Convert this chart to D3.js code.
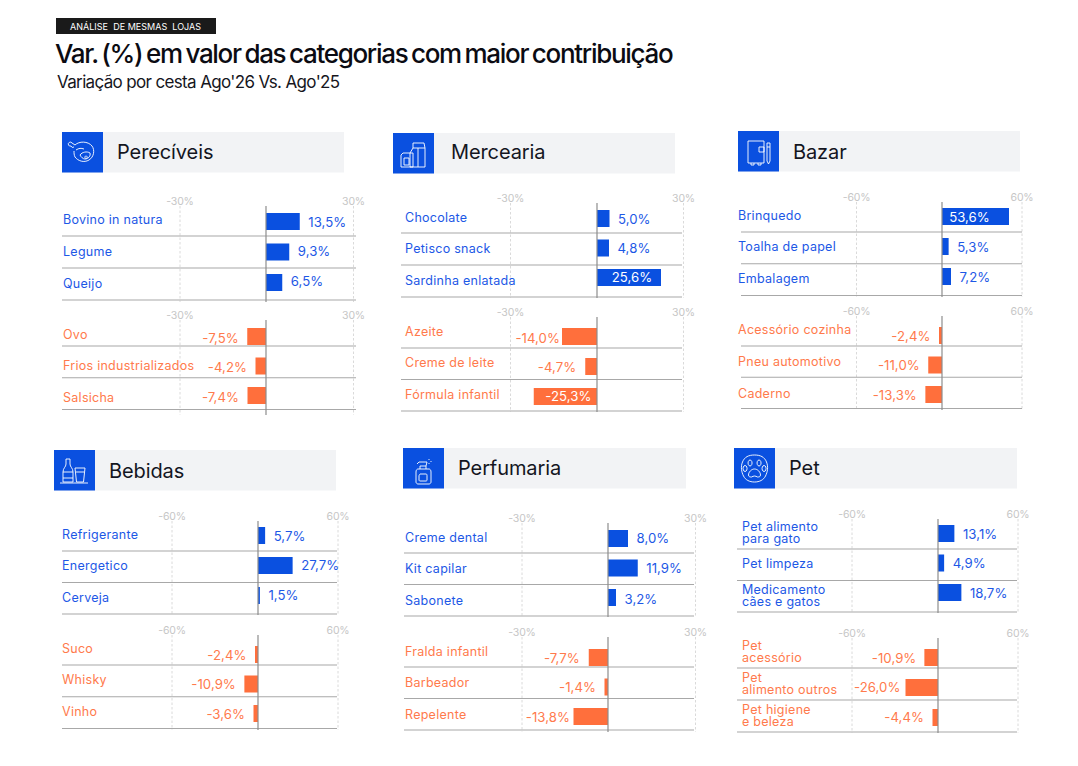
<!DOCTYPE html>
<html lang="pt">
<head>
<meta charset="utf-8">
<script src="https://cdn.jsdelivr.net/npm/d3@7"></script>
<style>
html,body{margin:0;padding:0;background:#fff}
svg{display:block}
text{font-family:Inter,"Noto Sans",sans-serif}
</style>
</head>
<body>
<svg id="chart" width="1078" height="766"></svg>
<script>
// ---- Data ----
const perecPosCats = ["Bovino in natura", "Legume", "Queijo"];
const perecPosVals = [13.5, 9.3, 6.5];
const perecNegCats = ["Ovo", "Frios industrializados", "Salsicha"];
const perecNegVals = [-7.5, -4.2, -7.4];

const mercPosCats = ["Chocolate", "Petisco snack", "Sardinha enlatada"];
const mercPosVals = [5.0, 4.8, 25.6];
const mercNegCats = ["Azeite", "Creme de leite", "Fórmula infantil"];
const mercNegVals = [-14.0, -4.7, -25.3];

const bazarPosCats = ["Brinquedo", "Toalha de papel", "Embalagem"];
const bazarPosVals = [53.6, 5.3, 7.2];
const bazarNegCats = ["Acessório cozinha", "Pneu automotivo", "Caderno"];
const bazarNegVals = [-2.4, -11.0, -13.3];

const bebPosCats = ["Refrigerante", "Energetico", "Cerveja"];
const bebPosVals = [5.7, 27.7, 1.5];
const bebNegCats = ["Suco", "Whisky", "Vinho"];
const bebNegVals = [-2.4, -10.9, -3.6];

const perfPosCats = ["Creme dental", "Kit capilar", "Sabonete"];
const perfPosVals = [8.0, 11.9, 3.2];
const perfNegCats = ["Fralda infantil", "Barbeador", "Repelente"];
const perfNegVals = [-7.7, -1.4, -13.8];

const petPosCats = ["Pet alimento\npara gato", "Pet limpeza", "Medicamento\ncães e gatos"];
const petPosVals = [13.1, 4.9, 18.7];
const petNegCats = ["Pet\nacessório", "Pet\nalimento outros", "Pet higiene\ne beleza"];
const petNegVals = [-10.9, -26.0, -4.4];

// ---- Layout (separate from the data) ----
const BLUE = "#0a50e0", ORANGE = "#ff6f3c";
const BLUE_TXT = "#1d58e6", ORANGE_TXT = "#ff7a4c";
const BAR_H = 17, BAR_HALF = 75, VALUE_GAP = 8.5;

const panels = [
 {name:"Perecíveis", icon:"meat", hx:62, hy:132, hr:344, tx:117, ty:159, max:30, zero:266, left:179.5, right:353, x0:62, x1:356, labelX:63, subs:[
  {cats:perecPosCats, vals:perecPosVals, top:206, bottom:302, bars:[213,274], labels:[219,283], values:[222,281], divs:[236,300]},
  {cats:perecNegCats, vals:perecNegVals, top:320, bottom:415, bars:[328,387], labels:[334,397], values:[338,397], divs:[346,409.5]}]},
 {name:"Mercearia", icon:"carton", hx:393, hy:133, hr:675, tx:451, ty:159, max:30, zero:597, left:510, right:683, x0:401, x1:682, labelX:405, inDx:3, subs:[
  {cats:mercPosCats, vals:mercPosVals, top:203, bottom:298, bars:[210,269], labels:[217,280], values:[219,277], divs:[233,297]},
  {cats:mercNegCats, vals:mercNegVals, top:317, bottom:412, bars:[328,388], labels:[331,394], values:[338,396], divs:[348,411], gaps:[2,9,0]}]},
 {name:"Bazar", icon:"notebook", hx:738, hy:131, hr:1020, tx:793, ty:159, max:60, zero:942, left:856, right:1021.5, x0:741, x1:1022, labelX:738, inDx:-6, subs:[
  {cats:bazarPosCats, vals:bazarPosVals, top:202, bottom:297, bars:[208,268], labels:[215,278], values:[217,277], divs:[232,295.5]},
  {cats:bazarNegCats, vals:bazarNegVals, top:316, bottom:410, bars:[327,386], labels:[329,393], values:[336,395], divs:[346,408.5]}]},
 {name:"Bebidas", icon:"bottle", hx:54, hy:450, hr:336, tx:109, ty:478, max:60, zero:258, left:171.5, right:337.5, x0:62, x1:337, labelX:62, subs:[
  {cats:bebPosCats, vals:bebPosVals, top:521, bottom:615, bars:[527,587], labels:[534,597], values:[536,595], divs:[551,614]},
  {cats:bebNegCats, vals:bebNegVals, top:635, bottom:730, bars:[646,705], labels:[648,711], values:[655,714], divs:[665,728.5]}]},
 {name:"Perfumaria", icon:"spray", hx:403, hy:448, hr:686, tx:458, ty:475, max:30, zero:608, left:521.5, right:695, x0:404, x1:694, labelX:405, subs:[
  {cats:perfPosCats, vals:perfPosVals, top:523, bottom:617, bars:[530,589], labels:[537,600], values:[538,599], divs:[553,616]},
  {cats:perfNegCats, vals:perfNegVals, top:637, bottom:732, bars:[649,708], labels:[651,714], values:[658,717], divs:[667,730], gaps:[9,8.5,3.5]}]},
 {name:"Pet", icon:"paw", hx:734, hy:448, hr:1017, tx:789, ty:475, max:60, zero:938, left:851.5, right:1017.5, x0:737, x1:1017, labelX:742, subs:[
  {cats:petPosCats, vals:petPosVals, top:519, bottom:613, bars:[525,584], labels:[532,595], values:[534,593], divs:[549,612]},
  {cats:petNegCats, vals:petNegVals, top:638, bottom:733, bars:[649,709], labels:[651,715], values:[658,717], divs:[668,732], gaps:[8,5,8.5]}]}
];

// small white line glyphs, drawn in a 41x41 box
const icons = {
 meat:"M13 13c4-4 13-4 17 1 3 4 2 11-3 14-5 3-11 1-14-3-1-2-1-4-1-6M13 13l-3-2M10 11a2 2 0 1 0-1 3 2 2 0 0 0 3 1M18 23c2-3 7-4 10-2 1 3-2 6-5 6-2 0-4-2-5-4zM24 24a1.2 1.2 0 1 0 .1 0M14 18c3-2 5-2 8-1",
 carton:"M20 10h11l1 5v19H17V20l3-5zM20 15h12M25 15v19M10 20h10v14H8V22zM11 25h5v7h-5z",
 notebook:"M10 10h16v22H10zM13 32v2h3v-2M20 32v2h3v-2M21 16h5v5h-5zM29 12h3v18l-1.5 3-1.5-3zM29 16h3",
 bottle:"M12 9h4v5c0 3 3 4 3 8v10H9V22c0-4 3-5 3-8zM9 22h10M9 28h10M21 18h10l-1.5 14H22.500zM22 22h8M6 33h28",
 spray:"M15 21h11c1 0 2 1 2 3v10c0 1-1 2-2 2H15c-1 0-2-1-2-2V24c0-2 1-3 2-3zM17 21v-3h6v3M16 14h8l-1 4M16 14l-2 2M26 11v1M28 13v1M26 15v1M17 26h6c1 0 1 1 1 2v4c0 1-1 1-1 1h-6c-1 0-1-1-1-1v-4c0-1 1-2 1-2z",
 paw:"M20.500 7c6 0 10 2 12 7 2 5 1 10-1 14-2 4-6 6-11 6s-9-2-11-6c-2-4-3-9-1-14 2-5 6-7 12-7zM20.500 21c3 0 6 3 6 6 0 2-2 2-3 2-1-.5-2-1-3-1s-2 .5-3 1c-1 0-3 0-3-2 0-3 3-6 6-6zM16 12a2 3 0 1 0 .1 0M25 12a2 3 0 1 0 .1 0M11 17.500a2 3 0 1 0 .1 0M30 17.500a2 3 0 1 0 .1 0"
};

// ---- Drawing ----
const locale = d3.formatLocale({decimal:",", thousands:".", grouping:[3], currency:["R$",""], minus:"-"});
const fmtVal = locale.format(".1f");
const fmtTick = d => d + "%";
const svg = d3.select("#chart");

// heading
svg.append("rect").attr("x",56).attr("y",18).attr("width",160).attr("height",16).attr("fill","#1a1a1a");
svg.append("text").attr("x",70).attr("y",30).attr("fill","#fff").attr("font-size",9).attr("letter-spacing",0.02)
   .style("white-space","pre").text("ANÁLISE  DE MESMAS  LOJAS");
svg.append("text").attr("x",55).attr("y",63).attr("fill","#0b0b12").attr("font-size",26).attr("font-weight",500)
   .attr("letter-spacing",-1.3).attr("word-spacing",-2)
   .text("Var. (%) em valor das categorias com maior contribuição");
svg.append("text").attr("x",57).attr("y",88).attr("fill","#16161d").attr("font-size",17).attr("letter-spacing",-0.65)
   .text("Variação por cesta Ago'26 Vs. Ago'25");

panels.forEach(p => {
  const g = svg.append("g");
  // header band
  g.append("rect").attr("x",p.hx).attr("y",p.hy).attr("width",p.hr-p.hx).attr("height",40.500).attr("fill","#f2f3f5");
  g.append("rect").attr("x",p.hx).attr("y",p.hy).attr("width",41).attr("height",40.500).attr("fill",BLUE);
  g.append("path").attr("transform",`translate(${p.hx},${p.hy})`).attr("d",icons[p.icon])
    .attr("fill","none").attr("stroke","#fff").attr("stroke-opacity",0.9).attr("stroke-width",1);
  g.append("text").attr("x",p.tx).attr("y",p.ty).attr("fill","#14161f").attr("font-size",20).attr("letter-spacing",-0.1).text(p.name);

  const axisX = d3.scaleLinear().domain([-p.max,0,p.max]).range([p.left,p.zero,p.right]);
  const barX = d3.scaleLinear().domain([-p.max,p.max]).range([p.zero-BAR_HALF,p.zero+BAR_HALF]);

  p.subs.forEach(s => {
    const positive = s.vals[0] > 0;
    const barY = d3.scalePoint().domain(s.cats).range(s.bars);
    const labY = d3.scalePoint().domain(s.cats).range(s.labels);
    const valY = d3.scalePoint().domain(s.cats).range(s.values);
    const divY = d3.scalePoint().domain(s.cats).range(s.divs);
    const rows = s.cats.map((c,i)=>({cat:c,val:s.vals[i],gap:s.gaps?s.gaps[i]:VALUE_GAP}));

    // value axis: two dashed reference ticks and their labels
    const axis = d3.axisTop(axisX).tickValues([-p.max,p.max]).tickFormat(fmtTick)
      .tickSizeInner(-(s.bottom-s.top)).tickSizeOuter(0).tickPadding(1.5);
    const ag = g.append("g").attr("transform",`translate(0,${s.top})`).call(axis);
    ag.select(".domain").remove();
    ag.selectAll(".tick line").attr("stroke","#dadada").attr("stroke-dasharray","2.5 2").attr("stroke-width",1);
    ag.selectAll(".tick text").attr("fill","#c6c6c6").attr("font-size",10.500)
      .style("font-family","Inter,sans-serif").attr("letter-spacing",-0.2);

    // dividers
    g.selectAll(null).data(rows).join("line")
      .attr("x1",p.x0).attr("x2",p.x1)
      .attr("y1",d=>divY(d.cat)).attr("y2",d=>divY(d.cat))
      .attr("stroke","#a8a8a8").attr("stroke-width",1.2);

    // bars
    g.selectAll(null).data(rows).join("rect")
      .attr("x",d=>Math.min(barX(0),barX(d.val)))
      .attr("width",d=>Math.abs(barX(d.val)-barX(0)))
      .attr("y",d=>barY(d.cat)).attr("height",BAR_H)
      .attr("fill",positive?BLUE:ORANGE);

    // zero line
    g.append("line").attr("x1",axisX(0)).attr("x2",axisX(0)).attr("y1",s.top).attr("y2",s.bottom)
      .attr("stroke","#8d8d8d").attr("stroke-width",1.2);

    // category labels (one or two lines)
    const lab = g.selectAll(null).data(rows).join("text")
      .attr("fill",positive?BLUE_TXT:ORANGE_TXT).attr("font-size",12.500).attr("letter-spacing",0.27);
    lab.each(function(d){
      const lines = d.cat.split("\n");
      const y0 = labY(d.cat) + 4.500 - (lines.length-1)*6;
      d3.select(this).selectAll("tspan").data(lines).join("tspan")
        .attr("x",p.labelX).attr("y",(l,i)=>y0+i*12).text(l=>l);
    });

    // value labels: inside long bars, otherwise next to the bar end
    const isInside = d => Math.abs(barX(d.val)-barX(0)) > 60;
    g.selectAll(null).data(rows).join("text")
      .attr("font-size",13.2).attr("letter-spacing",0.05)
      .attr("y",d=>valY(d.cat)+4.500)
      .attr("x",d=>{
        if(isInside(d)) return (barX(d.val)+barX(0))/2 + (p.inDx||0);
        return barX(d.val) + (d.val>0 ? d.gap : -d.gap);
      })
      .attr("text-anchor",d=>isInside(d)?"middle":(d.val>0?"start":"end"))
      .attr("fill",d=>isInside(d)?"#fff":(positive?BLUE_TXT:ORANGE_TXT))
      .text(d=>fmtVal(d.val)+"%");
  });
});
</script>
</body>
</html>
